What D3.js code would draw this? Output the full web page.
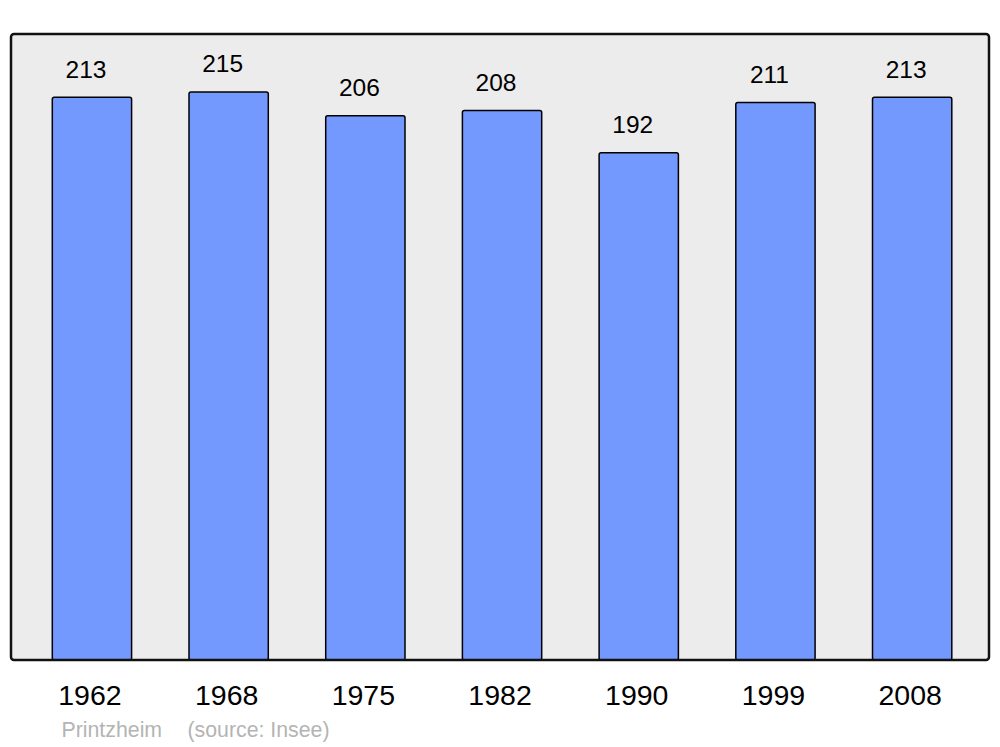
<!DOCTYPE html>
<html><head><meta charset="utf-8">
<script src="https://cdn.jsdelivr.net/npm/d3@7"></script>
<style>body{margin:0;background:#fff;} svg{display:block;font-family:"Liberation Sans",Arial,sans-serif;}</style>
</head><body>
<svg id="c" width="1000" height="747"></svg>
<script>
const years = ["1962","1968","1975","1982","1990","1999","2008"];
const population = [213,215,206,208,192,211,213];
const place = "Printzheim";
const source = "(source: Insee)";

const svg = d3.select("#c");
const frame = {x0:11, y0:34, x1:989, y1:660};
const x = d3.scaleBand().domain(years).range([23.6,980.5]).paddingInner(0.42).paddingOuter(0.21);
const y = d3.scaleLinear().domain([0, d3.max(population)*1.102]).range([frame.y1, frame.y0]);

svg.append("rect").attr("x",frame.x0).attr("y",frame.y0).attr("width",frame.x1-frame.x0).attr("height",frame.y1-frame.y0)
  .attr("rx",3).attr("fill","#ececec");

const data = years.map((yr,i)=>({yr, v:population[i]}));
svg.selectAll("rect.bar").data(data).enter().append("rect").attr("class","bar")
  .attr("x",d=>x(d.yr)).attr("y",d=>y(d.v)).attr("width",x.bandwidth()).attr("height",d=>y(0)-y(d.v))
  .attr("rx",2).attr("fill","#7399ff").attr("stroke","#000").attr("stroke-width",1.5);

svg.append("rect").attr("x",frame.x0).attr("y",frame.y0).attr("width",frame.x1-frame.x0).attr("height",frame.y1-frame.y0)
  .attr("rx",3).attr("fill","none").attr("stroke","#111").attr("stroke-width",2.5);

svg.selectAll("text.val").data(data).enter().append("text").attr("class","val")
  .attr("x",d=>x(d.yr)+x.bandwidth()/2-6).attr("y",d=>y(d.v)-19.5)
  .attr("text-anchor","middle").attr("font-size",24.5).attr("fill","#000").text(d=>d.v);

const xAxis = d3.axisBottom(x).tickSize(0).tickPadding(0);
const ax = svg.append("g").attr("transform",`translate(-2,${705})`).call(xAxis);
ax.select(".domain").remove();
ax.selectAll("text").attr("font-size",28.5).attr("fill","#000").attr("dy",0).attr("font-family","Liberation Sans, Arial, sans-serif");

svg.append("text").attr("x",61.5).attr("y",737).attr("font-size",21.3).attr("fill","#b4b4b4").text(place);
svg.append("text").attr("x",187.5).attr("y",737).attr("font-size",21.3).attr("fill","#b4b4b4").text(source);
</script>
</body></html>
